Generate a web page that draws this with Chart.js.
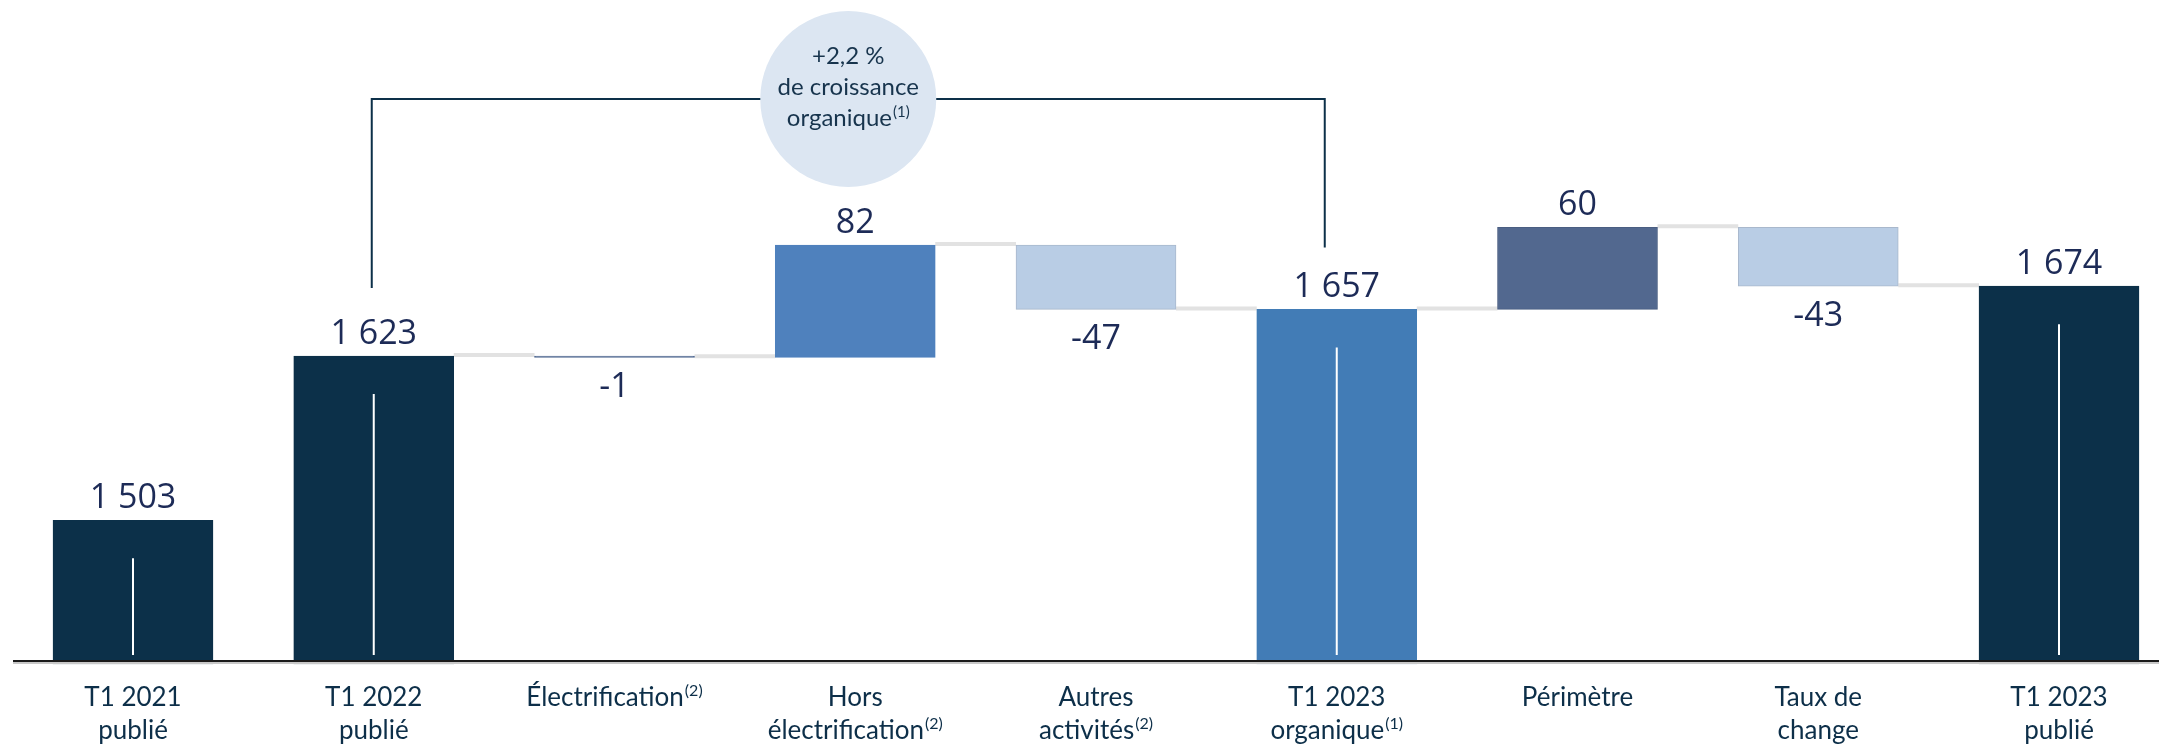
<!DOCTYPE html>
<html>
<head>
<meta charset="utf-8">
<script src="https://cdn.jsdelivr.net/npm/chart.js@4.4.0/dist/chart.umd.min.js"></script>
<style>
  html, body { margin: 0; padding: 0; background: #fff; overflow: hidden; }
  #wrap { width: 2159px; height: 744px; }
</style>
</head>
<body>
<div id="wrap"><canvas id="bridge" width="2159" height="744"></canvas></div>
<script>
// categories (the "^" marks a superscript part)
const categories = ["T1 2021 publié", "T1 2022 publié", "Électrification", "Hors électrification",
  "Autres activités", "T1 2023 organique", "Périmètre", "Taux de change", "T1 2023 publié"];
const tickLines = [
  ["T1 2021", "publié"],
  ["T1 2022", "publié"],
  ["Électrification^(2)"],
  ["Hors", "électrification^(2)"],
  ["Autres", "activités^(2)"],
  ["T1 2023", "organique^(1)"],
  ["Périmètre"],
  ["Taux de", "change"],
  ["T1 2023", "publié"]
];
const values = [1503, 1623, -1, 82, -47, 1657, 60, -43, 1674];
const isTotal = [true, true, false, false, false, true, false, false, true];
const valueLabels = ["1 503", "1 623", "-1", "82", "-47", "1 657", "60", "-43", "1 674"];
const barColors = ["#0c3049", "#0c3049", "#4f6890", "#4f81bd", "#b9cde5", "#427cb6", "#52688f", "#b9cde5", "#0c3049"];
const borderColors = ["#0c3049", "#0c3049", "#4f6890", "#4f81bd", "#a9b8cc", "#427cb6", "#4a5e82", "#a9b8cc", "#0c3049"];
const bubbleLines = ["+2,2 %", "de croissance", "organique^(1)"];
const bracketFrom = 1, bracketTo = 5;
const axisMin = 1398, axisMax = 1883;

// waterfall ranges built from the values
let running = 0;
const ends = [];
const floating = values.map((v, i) => {
  if (isTotal[i]) { running = v; ends.push(running); return [axisMin, v]; }
  const start = running;
  running += v;
  ends.push(running);
  return [start, running];
});

const navy = "#0d2f49";
const labelFont = "Lato, 'Noto Sans', sans-serif";
const valueFont = "'Open Sans', 'Noto Sans', sans-serif";

// draw a line of text with optional ^superscript part, centred on x
function drawRich(ctx, text, x, y, size) {
  const parts = text.split("^");
  const main = parts[0], sup = parts[1] || "";
  ctx.font = size + "px " + labelFont;
  const w1 = ctx.measureText(main).width;
  ctx.font = Math.round(size * 0.62) + "px " + labelFont;
  const w2 = sup ? ctx.measureText(sup).width + 1 : 0;
  let left = x - (w1 + w2) / 2;
  ctx.textAlign = "left";
  ctx.textBaseline = "alphabetic";
  ctx.font = size + "px " + labelFont;
  ctx.fillText(main, left, y);
  if (sup) {
    ctx.font = Math.round(size * 0.62) + "px " + labelFont;
    ctx.fillText(sup, left + w1 + 1, y - size * 0.38);
  }
}

const waterfallExtras = {
  id: "waterfallExtras",
  beforeDatasetsDraw(chart) {
    const ctx = chart.ctx;
    const bars = chart.getDatasetMeta(0).data;
    const ys = chart.scales.y;
    // connectors
    ctx.save();
    ctx.strokeStyle = "#e2e2e2";
    ctx.lineWidth = 4;
    for (let i = 1; i < bars.length - 1; i++) {
      const a = bars[i], b = bars[i + 1];
      const y = ys.getPixelForValue(ends[i]);
      ctx.beginPath();
      ctx.moveTo(a.x + a.width / 2, y - 1);
      ctx.lineTo(b.x - b.width / 2, y - 1);
      ctx.stroke();
    }
    ctx.restore();
  },
  afterDatasetsDraw(chart) {
    const ctx = chart.ctx;
    const bars = chart.getDatasetMeta(0).data;
    const ys = chart.scales.y;
    const base = ys.getPixelForValue(axisMin);
    ctx.save();
    // break marks in total bars
    ctx.strokeStyle = "#ffffff";
    ctx.lineWidth = 2;
    bars.forEach((b, i) => {
      if (!isTotal[i]) return;
      ctx.beginPath();
      ctx.moveTo(b.x, b.y + 38);
      ctx.lineTo(b.x, base - 9);
      ctx.stroke();
    });
    // baseline
    ctx.strokeStyle = "#c8c8c8";
    ctx.lineWidth = 2;
    ctx.beginPath(); ctx.moveTo(13, base - 1); ctx.lineTo(2159, base - 1); ctx.stroke();
    ctx.strokeStyle = "#1a1a1a";
    ctx.lineWidth = 2;
    ctx.beginPath(); ctx.moveTo(13, base - 3); ctx.lineTo(2159, base - 3); ctx.stroke();

    // value labels
    ctx.fillStyle = "#1d2b57";
    ctx.font = "34px " + valueFont;
    ctx.textAlign = "center";
    ctx.textBaseline = "middle";
    bars.forEach((b, i) => {
      const top = Math.min(b.y, b.base), bottom = Math.max(b.y, b.base);
      const y = (isTotal[i] || values[i] >= 0) ? top - 22 : bottom + 30;
      ctx.fillText(valueLabels[i], b.x, y);
    });

    // category labels
    ctx.fillStyle = navy;
    bars.forEach((b, i) => {
      tickLines[i].forEach((line, k) => {
        drawRich(ctx, line, b.x, 706 + k * 33, 26);
      });
    });

    // bracket and bubble
    const xl = bars[bracketFrom].x - 2, xr = bars[bracketTo].x - 12;
    const topY = 99;
    ctx.strokeStyle = "#0d3049";
    ctx.lineWidth = 2;
    ctx.beginPath();
    ctx.moveTo(xl, bars[bracketFrom].y - 68);
    ctx.lineTo(xl, topY);
    ctx.lineTo(xr, topY);
    ctx.lineTo(xr, bars[bracketTo].y - 62);
    ctx.stroke();
    const cx = (xl + xr) / 2;
    ctx.fillStyle = "#dce6f2";
    ctx.beginPath();
    ctx.arc(cx, topY, 88, 0, Math.PI * 2);
    ctx.fill();
    ctx.fillStyle = "#17344d";
    bubbleLines.forEach((line, k) => {
      drawRich(ctx, line, cx, 64 + k * 31, 24);
    });
    ctx.restore();
  }
};

new Chart(document.getElementById("bridge"), {
  type: "bar",
  data: {
    labels: categories,
    datasets: [{
      data: floating,
      backgroundColor: barColors,
      borderColor: borderColors,
      borderWidth: 1,
      borderSkipped: false,
      barThickness: 160,
      clip: false
    }]
  },
  options: {
    responsive: false,
    animation: false,
    layout: { padding: { left: 133, right: 100, top: 0, bottom: 80 } },
    plugins: { legend: { display: false }, tooltip: { enabled: false } },
    scales: {
      x: { display: false, offset: false },
      y: { display: false, min: axisMin, max: axisMax }
    }
  },
  plugins: [waterfallExtras]
});
</script>
</body>
</html>
